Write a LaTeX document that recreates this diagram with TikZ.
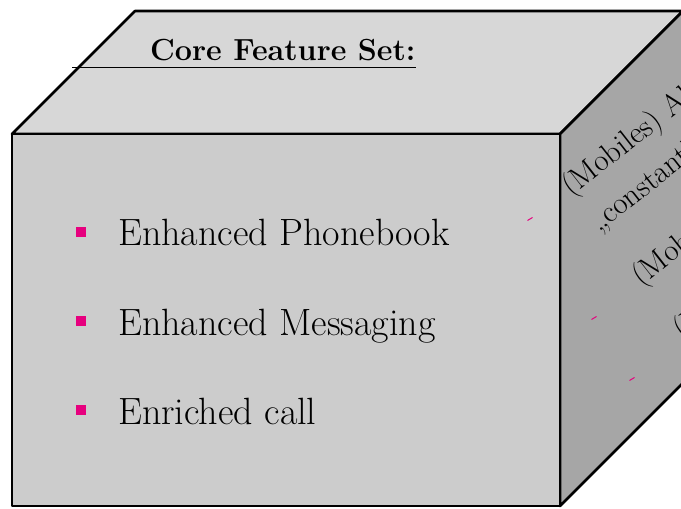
\documentclass[tikz,border=0pt]{standalone}
\usepackage{fontspec}
\definecolor{frontgray}{HTML}{CCCCCC}
\definecolor{topgray}{HTML}{D7D7D7}
\definecolor{sidegray}{HTML}{A6A6A6}
\definecolor{bulletpink}{HTML}{E6007E}
\begin{document}
\begin{tikzpicture}[x=1pt,y=-1pt,
  face/.style={draw=black,line width=2.6pt,line join=round},
  bulletsq/.style={fill=bulletpink,draw=none,minimum size=10pt,inner sep=0pt},
  itemtext/.style={anchor=base west,inner sep=0pt,font=\fontsize{38}{45}\selectfont},
  sidetext/.style={anchor=base west,inner sep=0pt,rotate=38,font=\fontsize{31}{37}\selectfont},
  sidemark/.style={draw=bulletpink,line width=1pt}]
\useasboundingbox (0,0) rectangle (681,509);
\clip (0,0) rectangle (681,509);

% cube corners
\coordinate (ftl) at (12,134);
\coordinate (ftr) at (560,134);
\coordinate (fbr) at (560,506);
\coordinate (fbl) at (12,506);
\coordinate (btl) at (135,11);
\coordinate (btr) at (683,11);
\coordinate (bbr) at (683,383);

% faces
\filldraw[face,fill=topgray] (ftl) -- (btl) -- (btr) -- (ftr) -- cycle;
\filldraw[face,fill=sidegray] (ftr) -- (btr) -- (bbr) -- (fbr) -- cycle;
\filldraw[face,fill=frontgray] (ftl) -- (ftr) -- (fbr) -- (fbl) -- cycle;

% heading on the top face
\node[anchor=base west,inner sep=0pt,font=\bfseries\fontsize{30.5}{36}\selectfont]
  (title) at (150,60) {Core Feature Set:};
\coordinate (ulL) at (72,67);
\coordinate (ulR) at (416,67);
\draw[line width=0.9pt] (ulL) -- (ulR);

% feature list on the front face
\node[bulletsq] (b1) at (80.5,232) {};
\node[bulletsq] (b2) at (80.5,321) {};
\node[bulletsq] (b3) at (80.5,410) {};
\node[itemtext] (t1) at (118,245) {Enhanced Phonebook};
\node[itemtext] (t2) at (118,335) {Enhanced Messaging};
\node[itemtext] (t3) at (118,424) {Enriched call};

% list on the side face
\node[sidetext] (s1) at (571,197) {(Mobiles) Always On};
\node[sidetext] (s2) at (599,233) {„constantly connected“};
\node[sidetext] (s3) at (641,287) {(Mobiles) Presence};
\node[sidetext] (s4) at (682,340) {(Mobiles) Sharing};

% bullet marks seen edge-on
\coordinate (m1a) at (527.5,220.5); \coordinate (m1b) at (532.5,217.5);
\coordinate (m2a) at (591.5,319.5); \coordinate (m2b) at (596.5,316.5);
\coordinate (m3a) at (629.5,380.5); \coordinate (m3b) at (634.5,377.5);
\draw[sidemark] (m1a) -- (m1b);
\draw[sidemark] (m2a) -- (m2b);
\draw[sidemark] (m3a) -- (m3b);
\end{tikzpicture}
\end{document}
